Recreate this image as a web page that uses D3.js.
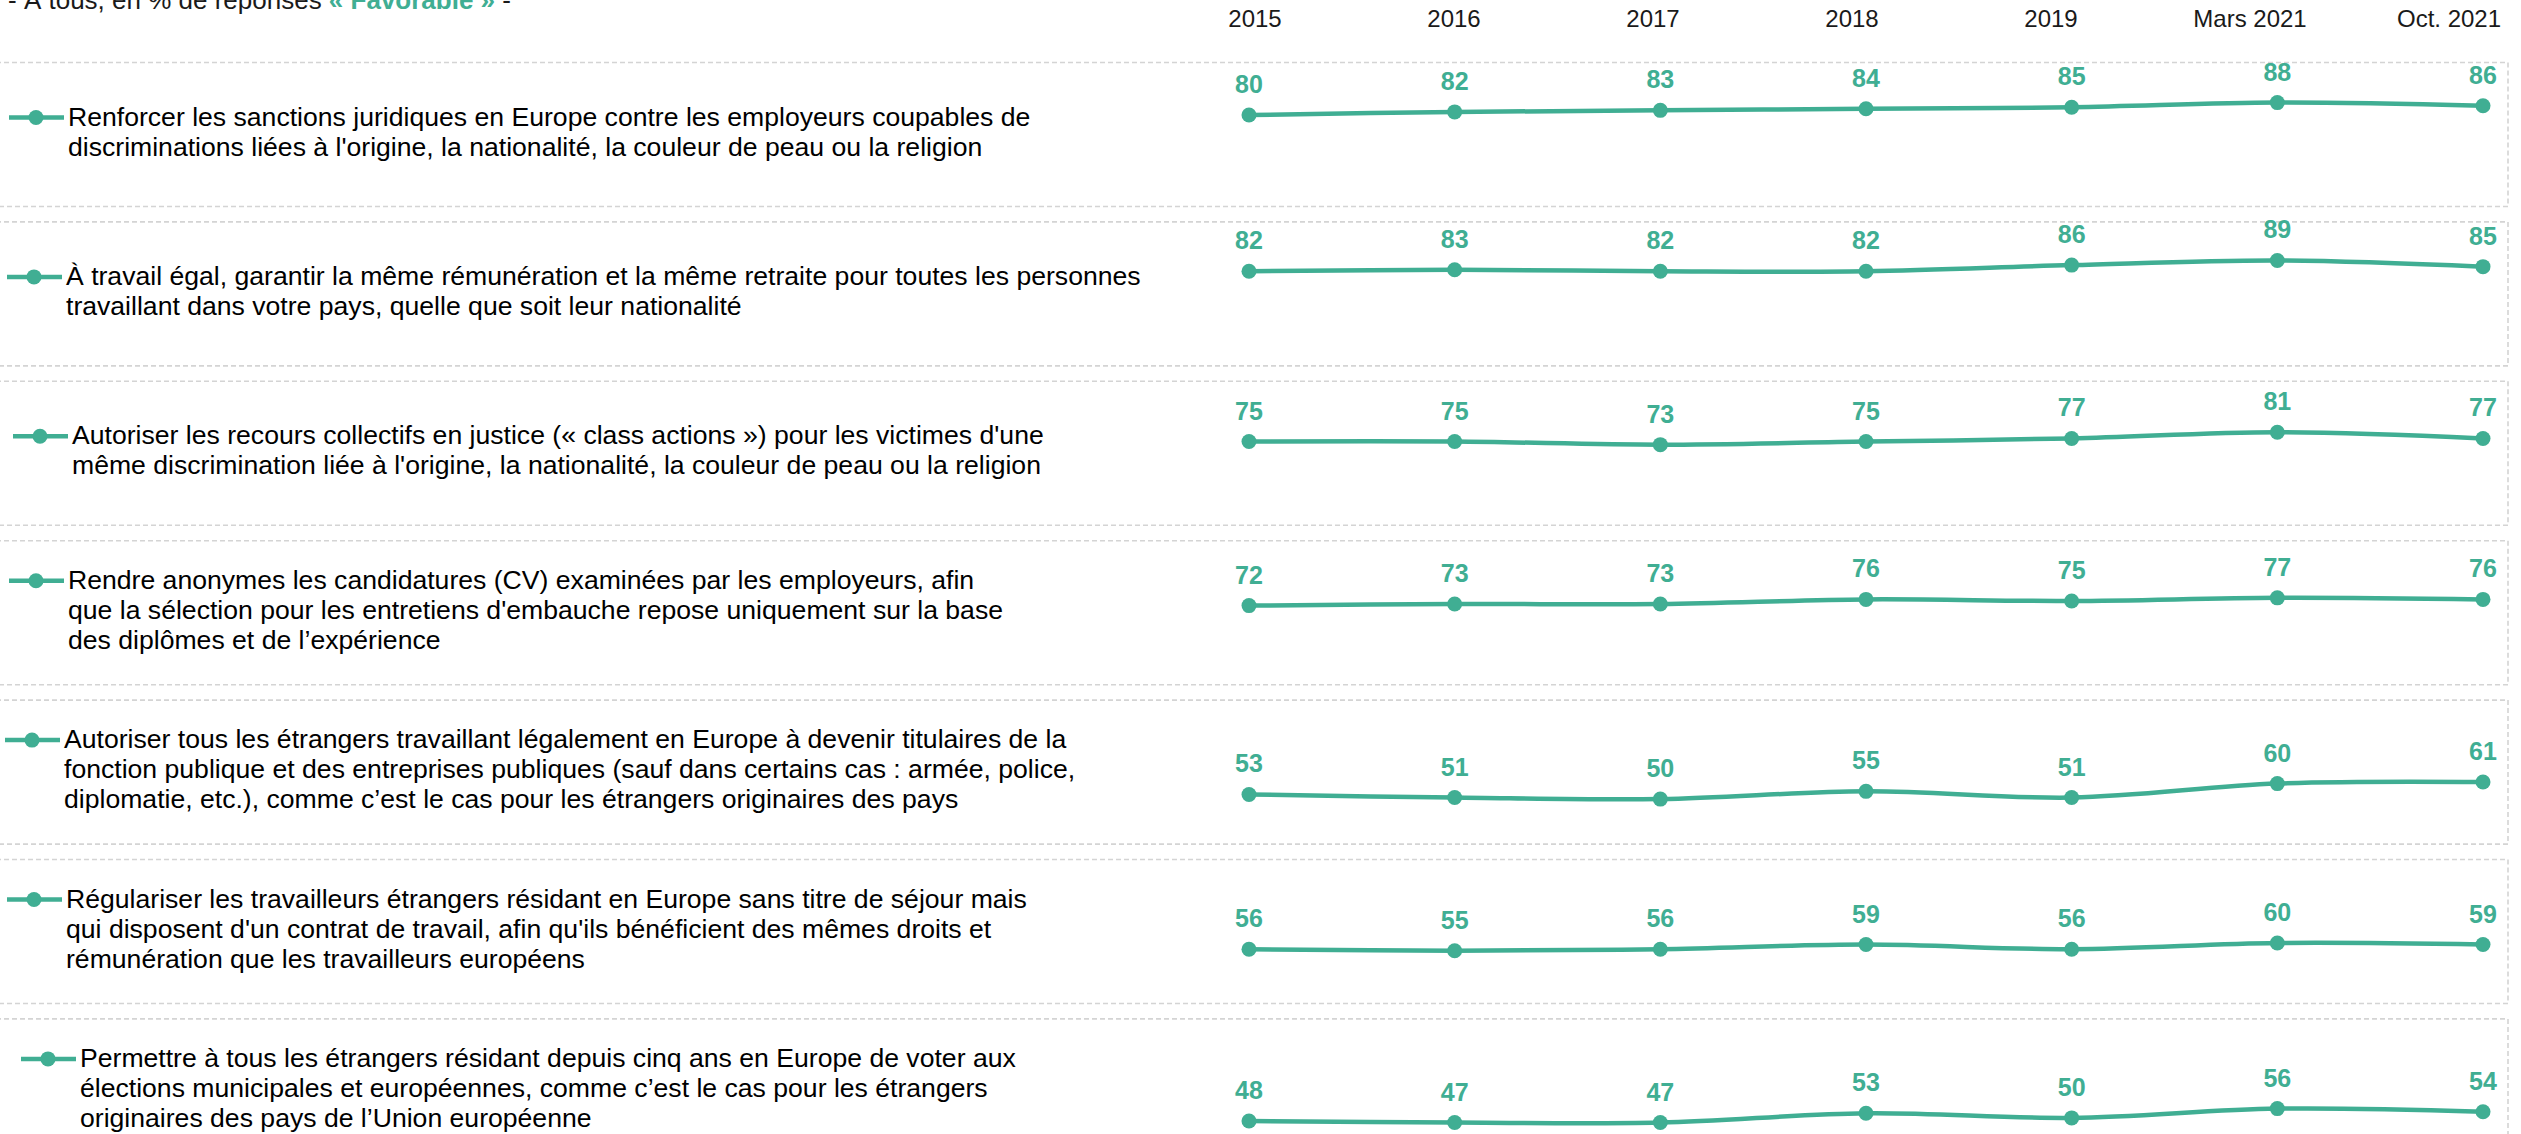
<!DOCTYPE html>
<html>
<head>
<meta charset="utf-8">
<script src="https://cdn.jsdelivr.net/npm/d3@7"></script>
<style>
  html, body { margin: 0; padding: 0; background: #ffffff; overflow: hidden; }
  svg { display: block; font-family: "Liberation Sans", Arial, sans-serif; }
</style>
</head>
<body>
<svg id="favorable-chart" width="2521" height="1134"></svg>
<script>
// survey waves shown on top of the chart
const waves = ["2015", "2016", "2017", "2018", "2019", "Mars 2021", "Oct. 2021"];

// one series of % favorable per measure
const sanctions_values = [80, 82, 83, 84, 85, 88, 86];
const remuneration_values = [82, 83, 82, 82, 86, 89, 85];
const class_actions_values = [75, 75, 73, 75, 77, 81, 77];
const cv_anonymes_values = [72, 73, 73, 76, 75, 77, 76];
const fonction_publique_values = [53, 51, 50, 55, 51, 60, 61];
const regularisation_values = [56, 55, 56, 59, 56, 60, 59];
const vote_values = [48, 47, 47, 53, 50, 56, 54];

// legend texts, one array of lines per measure
const measure_labels = [
    ["Renforcer les sanctions juridiques en Europe contre les employeurs coupables de",
     "discriminations liées à l'origine, la nationalité, la couleur de peau ou la religion"],
    ["À travail égal, garantir la même rémunération et la même retraite pour toutes les personnes",
     "travaillant dans votre pays, quelle que soit leur nationalité"],
    ["Autoriser les recours collectifs en justice (« class actions ») pour les victimes d'une",
     "même discrimination liée à l'origine, la nationalité, la couleur de peau ou la religion"],
    ["Rendre anonymes les candidatures (CV) examinées par les employeurs, afin",
     "que la sélection pour les entretiens d'embauche repose uniquement sur la base",
     "des diplômes et de l’expérience"],
    ["Autoriser tous les étrangers travaillant légalement en Europe à devenir titulaires de la",
     "fonction publique et des entreprises publiques (sauf dans certains cas : armée, police,",
     "diplomatie, etc.), comme c’est le cas pour les étrangers originaires des pays"],
    ["Régulariser les travailleurs étrangers résidant en Europe sans titre de séjour mais",
     "qui disposent d'un contrat de travail, afin qu'ils bénéficient des mêmes droits et",
     "rémunération que les travailleurs européens"],
    ["Permettre à tous les étrangers résidant depuis cinq ans en Europe de voter aux",
     "élections municipales et européennes, comme c’est le cas pour les étrangers",
     "originaires des pays de l’Union européenne"]
];

const all_series = [sanctions_values, remuneration_values, class_actions_values,
    cv_anonymes_values, fonction_publique_values, regularisation_values, vote_values];

// colors
let teal = "#40ae93";
let dash_grey = "#d4d4d4";

// small horizontal nudges of the legend markers, row by row
const legend_shift = [0, -2, 4, 0, -4, -2, 12];

let svg = d3.select("#favorable-chart");

// title (mostly cut off at the top of the picture, like the original)
let title = svg.append("text")
    .attr("x", 8)
    .attr("y", 9)
    .attr("font-size", 26)
    .attr("fill", "#1a1a1a");
title.append("tspan").text("- À tous, en % de réponses ");
title.append("tspan").attr("fill", teal).attr("font-weight", "bold").text("« Favorable »");
title.append("tspan").text(" -");

// scales
const row_scale = d3.scaleBand()
    .domain(d3.range(all_series.length))
    .range([62, 62 + 159.4 * all_series.length])
    .paddingInner(0);
const box_height = 144;

const header_scale = d3.scalePoint().domain(waves).range([1255, 2449]);
const xScale = d3.scalePoint().domain(waves).range([1249, 2483]);
// y inside a row, relative to the row's top
const yScale = d3.scaleLinear().domain([0, 100]).range([177, 22]);

// header with the waves
svg.append("g")
    .selectAll("text")
    .data(waves)
    .join("text")
    .attr("x", d => header_scale(d))
    .attr("y", 27)
    .attr("text-anchor", "middle")
    .attr("font-size", 24)
    .attr("fill", "#1a1a1a")
    .text(d => d);

const line_generator = d3.line()
    .x((d, i) => xScale(waves[i]))
    .y(d => yScale(d))
    .curve(d3.curveCatmullRom.alpha(0.5));

all_series.forEach(function(values, r) {
    const row = svg.append("g")
        .attr("transform", `translate(0, ${row_scale(r)})`);

    // dashed frame of the row
    row.append("rect")
        .attr("x", -4)
        .attr("y", 0.5)
        .attr("width", 2512)
        .attr("height", box_height)
        .attr("fill", "none")
        .attr("stroke", dash_grey)
        .attr("stroke-width", 1.6)
        .attr("stroke-dasharray", "5,3");

    // legend: line + dot + text lines
    const lines = measure_labels[r];
    const first_baseline = 78.5 - (lines.length - 1) * 15;
    const mark_y = first_baseline - 8;
    const sx = legend_shift[r];

    row.append("line")
        .attr("x1", 9 + sx)
        .attr("x2", 64 + sx)
        .attr("y1", mark_y)
        .attr("y2", mark_y)
        .attr("stroke", teal)
        .attr("stroke-width", 4.5);
    row.append("circle")
        .attr("cx", 36 + sx)
        .attr("cy", mark_y)
        .attr("r", 7.5)
        .attr("fill", teal);

    row.append("text")
        .attr("font-size", 26.6)
        .attr("fill", "#000000")
        .selectAll("tspan")
        .data(lines)
        .join("tspan")
        .attr("x", 68 + sx)
        .attr("y", (d, i) => first_baseline + i * 30)
        .text(d => d);

    // the smoothed series line
    row.append("path")
        .attr("d", line_generator(values))
        .attr("fill", "none")
        .attr("stroke", teal)
        .attr("stroke-width", 4.5);

    row.selectAll("circle.point")
        .data(values)
        .join("circle")
        .attr("class", "point")
        .attr("cx", (d, i) => xScale(waves[i]))
        .attr("cy", d => yScale(d))
        .attr("r", 7.5)
        .attr("fill", teal);

    // value labels above the points
    row.selectAll("text.value")
        .data(values)
        .join("text")
        .attr("class", "value")
        .attr("x", (d, i) => xScale(waves[i]))
        .attr("y", d => yScale(d) - 22)
        .attr("text-anchor", "middle")
        .attr("font-size", 25)
        .attr("font-weight", "bold")
        .attr("fill", teal)
        .text(d => d);
});
</script>
</body>
</html>
